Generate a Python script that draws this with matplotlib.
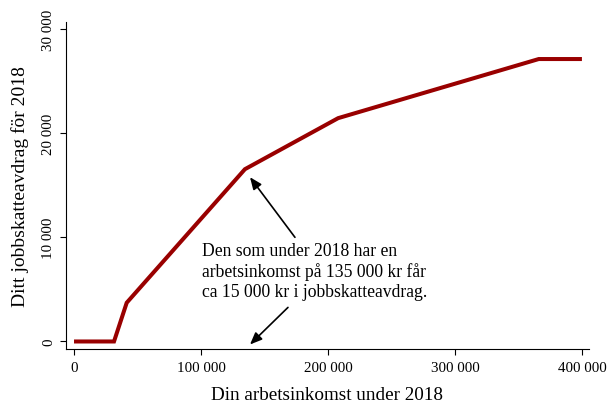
import matplotlib
matplotlib.use("Agg")
import matplotlib.pyplot as plt

# jobbskatteavdrag 2018
income = [0, 31500, 41500, 134600, 208000, 366000, 400000]
deduction = [0, 0, 3720, 16540, 21440, 27115, 27115]

xticks = [0, 100000, 200000, 300000, 400000]
xtick_labels = ["0", "100 000", "200 000", "300 000", "400 000"]
yticks = [0, 10000, 20000, 30000]
ytick_labels = ["0", "10 000", "20 000", "30 000"]

RED = "#990000"

plt.rcParams.update({"font.family": "Liberation Serif"})

fig = plt.figure(figsize=(6.09, 4.06), dpi=100)
ax = fig.add_axes([0.1084, 0.1367, 0.8586, 0.8074])

ax.plot(income, deduction, color=RED, lw=2.9, solid_joinstyle="miter",
        solid_capstyle="butt", zorder=3)

ax.set_xlim(-6300, 405500)
ax.set_ylim(-770, 30700)
ax.set_xticks(xticks)
ax.set_xticklabels(xtick_labels, fontsize=10.8)
ax.set_yticks(yticks)
ax.set_yticklabels(ytick_labels, fontsize=10.8, rotation=90, va="center")
for s in ("top", "right"):
    ax.spines[s].set_visible(False)
ax.tick_params(direction="out", length=4, width=0.8, pad=4)

ax.set_xlabel("Din arbetsinkomst under 2018", fontsize=13.8, labelpad=9)
ax.set_ylabel("Ditt jobbskatteavdrag för 2018", fontsize=14, labelpad=9)

ax.text(100800, 6750,
        "Den som under 2018 har en\narbetsinkomst på 135 000 kr får\n"
        "ca 15 000 kr i jobbskatteavdrag.",
        ha="left", va="center", fontsize=12.7, linespacing=1.22)

arr = dict(arrowstyle="-|>,head_length=0.6,head_width=0.25", color="black",
           lw=1.2, mutation_scale=12, shrinkA=0, shrinkB=0)
ax.annotate("", xy=(138600, 15770), xytext=(174000, 10000), arrowprops=arr)
ax.annotate("", xy=(138600, -290), xytext=(168500, 3270), arrowprops=arr)

fig.savefig("out.png", dpi=100)
